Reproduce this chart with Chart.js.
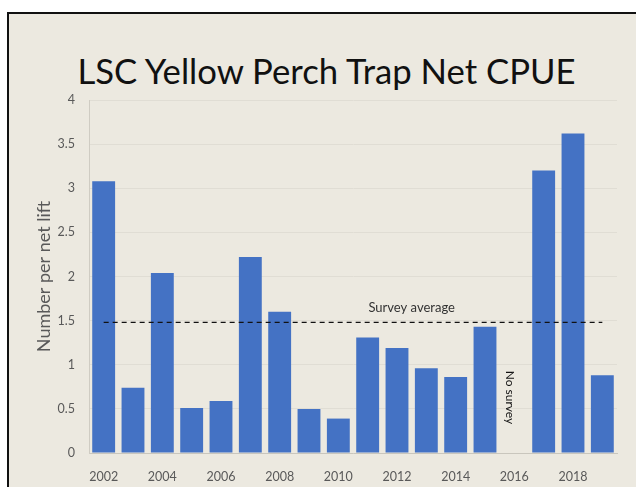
<!DOCTYPE html>
<html>
<head>
<meta charset="utf-8">
<script src="https://cdn.jsdelivr.net/npm/chart.js@4.4.1/dist/chart.umd.min.js"></script>
<style>
  html, body { margin: 0; padding: 0; background: #fff; overflow: hidden; }
  body { width: 636px; height: 487px; position: relative; }
  #frame {
    position: absolute; left: 7px; top: 12px; width: 660px; height: 500px;
    border-left: 2px solid #111; border-top: 2px solid #111;
    background: #ECE9E0;
  }
  #titulo {
    position: absolute; left: 0; width: 653px; top: 50px;
    text-align: center; font-family: Lato, sans-serif; font-size: 34.7px;
    color: #111; white-space: nowrap;
  }
  #wrap { position: absolute; left: 0; top: 0; width: 636px; height: 487px; }
</style>
</head>
<body>
<div id="frame"></div>
<div id="titulo">LSC Yellow Perch Trap Net CPUE</div>
<div id="wrap"><canvas id="cpueChart"></canvas></div>
<script>
const anos = ["2002", "2003", "2004", "2005", "2006", "2007", "2008", "2009", "2010",
  "2011", "2012", "2013", "2014", "2015", "2016", "2017", "2018", "2019"];
const cpue = [3.08, 0.74, 2.04, 0.51, 0.59, 2.22, 1.60, 0.50, 0.39,
  1.31, 1.19, 0.96, 0.86, 1.43, null, 3.20, 3.62, 0.88];
const media = [1.48, 1.48, 1.48, 1.48, 1.48, 1.48, 1.48, 1.48, 1.48,
  1.48, 1.48, 1.48, 1.48, 1.48, 1.48, 1.48, 1.48, 1.48];
const anosRotulo = ["2002", "2004", "2006", "2008", "2010", "2012", "2014", "2016", "2018"];
const yTicks = [0, 0.5, 1, 1.5, 2, 2.5, 3, 3.5, 4];

const cinza = "#595959";

// textos extras: "Survey average" e "No survey"
const notas = {
  id: 'notas',
  afterDatasetsDraw(chart) {
    const c = chart.ctx;
    const x = chart.scales.x, y = chart.scales.y;
    c.save();
    c.fillStyle = "#333";
    c.font = "13px Lato, sans-serif";
    c.textAlign = "center";
    c.textBaseline = "bottom";
    const xm = (x.getPixelForValue(10) + x.getPixelForValue(11)) / 2;
    c.fillText("Survey average", xm, y.getPixelForValue(media[0]) - 8);

    c.translate(x.getPixelForValue(14) - 4, y.getPixelForValue(0.63));
    c.rotate(Math.PI / 2);
    c.fillStyle = "#111";
    c.font = "12px Lato, sans-serif";
    c.textBaseline = "middle";
    c.fillText("No survey", 0, 0);
    c.restore();
  }
};

const ctx = document.getElementById('cpueChart').getContext('2d');
new Chart(ctx, {
  type: 'bar',
  data: {
    labels: anos,
    datasets: [
      {
        type: 'line',
        label: 'Survey average',
        data: media,
        borderColor: '#111',
        borderWidth: 1.4,
        borderDash: [5, 4],
        pointRadius: 0,
        fill: false,
        order: 0
      },
      {
        label: 'CPUE',
        data: cpue,
        backgroundColor: '#4472C4',
        barPercentage: 0.78,
        categoryPercentage: 1,
        order: 1
      }
    ]
  },
  options: {
    responsive: true,
    maintainAspectRatio: false,
    animation: false,
    layout: { padding: { top: 100, right: 19, bottom: 0, left: 0 } },
    plugins: {
      legend: { display: false },
      tooltip: { enabled: false }
    },
    scales: {
      x: {
        grid: { display: false },
        border: { color: '#C9C6BD', width: 1 },
        ticks: {
          color: cinza,
          font: { family: 'Lato, sans-serif', size: 12.5 },
          autoSkip: false,
          maxRotation: 0,
          padding: 8,
          callback: function (v, i) {
            return anosRotulo.includes(anos[i]) ? anos[i] : '';
          }
        },
        afterFit(s) { s.height = 34; }
      },
      y: {
        min: 0,
        max: 4,
        afterBuildTicks(s) { s.ticks = yTicks.map(v => ({ value: v })); },
        grid: { color: '#E0DDD4', drawTicks: false },
        border: { color: '#CFCCC3', width: 1 },
        ticks: {
          color: cinza,
          font: { family: 'Lato, sans-serif', size: 12.5 },
          padding: 14,
          callback: v => String(v)
        },
        title: {
          display: true,
          text: 'Number per net lift',
          color: cinza,
          font: { family: 'Lato, sans-serif', size: 18 },
          padding: { top: 33, bottom: 0 }
        },
        afterFit(s) { s.width = 89; }
      }
    }
  },
  plugins: [notas]
});
</script>
</body>
</html>
